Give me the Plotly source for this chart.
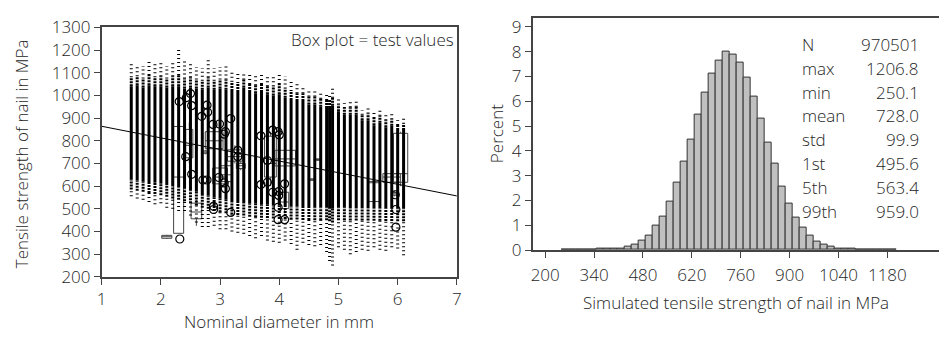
import plotly.graph_objects as go

W, H = 944, 341

# ---------------- Left panel: simulated columns (per nominal diameter) ----------------
sim_diam = [1.5, 1.6, 1.7, 1.8, 1.9, 2.0, 2.1, 2.2, 2.3, 2.4, 2.5, 2.6, 2.7, 2.8, 2.9, 3.0,
            3.1, 3.2, 3.3, 3.4, 3.5, 3.6, 3.7, 3.8, 3.9, 4.0, 4.1, 4.2, 4.3, 4.4, 4.5, 4.6,
            4.7, 4.8, 4.85, 4.9, 5.0, 5.1, 5.2, 5.3, 5.4, 5.5, 5.6, 5.7, 5.8, 5.9, 6.0, 6.1]
sim_max = [1140, 1135, 1130, 1150, 1140, 1155, 1130, 1145, 1207, 1150, 1145, 1125, 1120, 1155, 1120, 1125,
           1140, 1110, 1100, 1105, 1090, 1085, 1095, 1085, 1085, 1100, 1085, 1065, 1050, 1045, 1020, 1030,
           1010, 1010, 1000, 1035, 985, 965, 975, 985, 935, 950, 925, 945, 915, 925, 890, 905]
sim_top_dense = [1080, 1085, 1075, 1090, 1080, 1085, 1075, 1085, 1090, 1075, 1080, 1070, 1065, 1080, 1065, 1070,
                 1070, 1060, 1055, 1070, 1050, 1045, 1050, 1040, 1040, 1050, 1030, 1020, 1010, 1010, 995, 995,
                 985, 980, 975, 990, 960, 945, 948, 950, 915, 920, 900, 910, 890, 895, 870, 875]
sim_top_solid = [1040, 1045, 1035, 1045, 1040, 1040, 1035, 1040, 1040, 1030, 1035, 1030, 1025, 1035, 1025, 1030,
                 1025, 1020, 1015, 1035, 1015, 1010, 1015, 1005, 1000, 1005, 990, 980, 975, 975, 960, 960,
                 950, 945, 945, 955, 930, 915, 915, 915, 890, 890, 868, 880, 860, 866, 847, 847]
sim_bot_solid = [630, 625, 622, 618, 615, 610, 605, 600, 595, 588, 580, 575, 565, 558, 550, 545,
                 540, 535, 535, 530, 525, 522, 520, 518, 515, 515, 512, 510, 510, 508, 508, 507,
                 506, 505, 500, 500, 505, 505, 504, 504, 503, 503, 502, 502, 501, 501, 500, 500]
sim_bot_dense = [585, 580, 575, 570, 565, 560, 553, 545, 540, 533, 525, 515, 505, 500, 490, 485,
                 480, 475, 473, 470, 465, 463, 461, 459, 457, 455, 455, 453, 453, 451, 451, 450,
                 450, 450, 445, 440, 450, 450, 449, 449, 448, 448, 447, 447, 446, 446, 445, 445]
sim_min = [555, 545, 540, 530, 520, 525, 505, 500, 490, 490, 470, 440, 420, 420, 425, 410,
           410, 400, 395, 390, 380, 370, 380, 360, 355, 350, 360, 345, 320, 350, 340, 335,
           340, 310, 270, 250, 330, 320, 300, 310, 320, 315, 330, 320, 315, 330, 325, 295]

# regression line of tensile strength on diameter
reg_intercept = 915.2
reg_slope = -51.2
reg_x = [1, 7]

# test value box plots
box_x = [2.1, 2.3, 2.48, 2.6, 2.75, 2.9, 3.0, 3.1, 3.25, 3.35, 3.85, 4.1, 4.09, 4.55, 4.65, 5.6, 6.05, 5.9, 5.95]
box_low = [367, 392, 700, 425, 740, 700, 590, 600, 700, 670, 600, 670, 480, 624, 712, 532, 600, 590, 555]
box_q1 = [370, 392, 725, 456, 745, 765, 610, 620, 710, 678, 640, 689, 501, 626, 714, 532, 617, 617, 560]
box_med = [377, 640, 780, 486, 750, 800, 640, 650, 730, 690, 700, 720, 530, 628, 717, 615, 655, 640, 566]
box_q3 = [383, 863, 850, 525, 755, 840, 680, 690, 760, 700, 820, 758, 573, 632, 720, 621, 833, 655, 572]
box_high = [385, 863, 880, 540, 760, 870, 700, 720, 780, 710, 840, 780, 590, 634, 722, 621, 840, 660, 580]
box_wid = [0.17, 0.17, 0.12, 0.18, 0.10, 0.30, 0.25, 0.20, 0.25, 0.15, 0.20, 0.35, 0.14, 0.12, 0.12, 0.20, 0.24, 0.30, 0.08]
box_white = [True, True, False, True, False, False, False, False, False, False, False, False, True, False, False, False, False, False, False]

# outliers of the test values
out_x = [2.31, 2.43, 2.5, 2.52, 2.32, 2.42, 2.52, 2.71, 2.78, 2.79, 2.69, 2.88, 2.99, 3.09, 3.07, 3.18,
         2.89, 2.89, 2.78, 2.98, 3.07, 3.09, 3.18, 3.30, 3.30, 3.69, 3.69, 3.80, 3.80, 3.89, 3.98, 4.0,
         3.89, 3.99, 3.99, 4.09, 3.98, 3.98, 4.09, 5.96, 5.97, 5.97]
out_y = [973, 990, 1008, 955, 367, 730, 652, 627, 957, 926, 908, 872, 874, 840, 829, 898,
         497, 511, 627, 638, 614, 589, 484, 758, 730, 822, 607, 617, 713, 847, 840, 826,
         573, 576, 559, 610, 507, 452, 452, 562, 497, 419]

# ---------------- Right panel: histogram ----------------
hist_bin_start = list(range(248, 1208, 20))
hist_pct = [0.01, 0.01, 0.01, 0.01, 0.01, 0.04, 0.04, 0.05, 0.06, 0.16, 0.22, 0.37, 0.60, 0.98, 1.36, 1.96,
            2.73, 3.55, 4.46, 5.45, 6.34, 7.10, 7.63, 8.00, 7.87, 7.56, 6.95, 6.19, 5.29, 4.32, 3.48, 2.57,
            1.89, 1.30, 0.92, 0.60, 0.36, 0.24, 0.14, 0.08, 0.07, 0.06, 0.02, 0.02, 0.02, 0.02, 0.01, 0.01]
hist_bin_width = 20
stat_names = ["N", "max", "min", "mean", "std", "1st", "5th", "99th"]
stat_values = ["970501", "1206.8", "250.1", "728.0", "99.9", "495.6", "563.4", "959.0"]
x2_ticks = [200, 340, 480, 620, 760, 900, 1040, 1180]

FONT = "Open Sans"
FS = 17
FW = 350
TXT = "#262626"
AX = "#444444"


def fx(px):
    return px / W


def fy(py):
    return 1 - py / H


fig = go.Figure()

# columns of simulated values
def seg_lists(lows, highs):
    xs, ys = [], []
    for d, a, b in zip(sim_diam, lows, highs):
        xs += [d, d, None]
        ys += [a, b, None]
    return xs, ys

sx, sy = seg_lists(sim_bot_solid, sim_top_solid)
dx1, dy1 = seg_lists(sim_top_solid, sim_top_dense)
dx2, dy2 = seg_lists(sim_bot_dense, sim_bot_solid)
px1, py1 = seg_lists(sim_top_dense, sim_max)
px2, py2 = seg_lists(sim_min, sim_bot_dense)

for xs, ys, dash in [(px1 + px2, py1 + py2, "1px,3px"),
                     (dx1 + dx2, dy1 + dy2, "2px,1px"),
                     (sx, sy, "solid")]:
    fig.add_trace(go.Scatter(x=xs, y=ys, mode="lines", line=dict(color="black", width=3, dash=dash),
                             xaxis="x", yaxis="y", showlegend=False, hoverinfo="skip"))

for i in range(len(box_x)):
    fig.add_trace(go.Box(x=[box_x[i]], q1=[box_q1[i]], median=[box_med[i]], q3=[box_q3[i]],
                         lowerfence=[box_low[i]], upperfence=[box_high[i]], width=box_wid[i],
                         fillcolor="white" if box_white[i] else "rgba(0,0,0,0)",
                         line=dict(color="#444444", width=1), whiskerwidth=0, boxpoints=False,
                         xaxis="x", yaxis="y", showlegend=False, hoverinfo="skip"))

fig.add_trace(go.Scatter(x=out_x, y=out_y, mode="markers",
                         marker=dict(symbol="circle-open", size=8, color="black", line=dict(width=1.2)),
                         xaxis="x", yaxis="y", showlegend=False, hoverinfo="skip"))

fig.add_trace(go.Scatter(x=reg_x, y=[reg_intercept + reg_slope * v for v in reg_x], mode="lines",
                         line=dict(color="black", width=1), xaxis="x", yaxis="y",
                         showlegend=False, hoverinfo="skip"))

# histogram
fig.add_trace(go.Bar(x=[s + hist_bin_width / 2 for s in hist_bin_start], y=hist_pct, width=hist_bin_width,
                     marker=dict(color="#c0c0c0", line=dict(color="#333333", width=1)),
                     xaxis="x2", yaxis="y2", showlegend=False, hoverinfo="skip"))

axis_common = dict(showline=True, linecolor=AX, linewidth=1.5, ticks="outside", ticklen=6,
                   tickcolor=AX, tickwidth=1, showgrid=False, zeroline=False,
                   tickfont=dict(family=FONT, size=FS, color=TXT, weight=FW))

fig.update_layout(
    width=W, height=H, margin=dict(l=0, r=0, t=0, b=0),
    paper_bgcolor="white", plot_bgcolor="white", bargap=0,
    xaxis=dict(domain=[fx(97.7), fx(456.7)], range=[1, 7], tickvals=[1, 2, 3, 4, 5, 6, 7],
               mirror=True, anchor="y", **axis_common),
    yaxis=dict(domain=[fy(284), fy(16.5)], range=[200, 1300], dtick=100, tick0=200,
               mirror=True, anchor="x", **axis_common),
    xaxis2=dict(domain=[fx(533.3), 1.0], range=[164, 1328], tickvals=x2_ticks,
                mirror=True, anchor="y2", ticklabelstandoff=3, **axis_common),
    yaxis2=dict(domain=[fy(255.3), fy(6)], range=[0, 9.372], dtick=1, tick0=0,
                anchor="x2", **axis_common),
)

ann = []
ann.append(dict(text="Tensile strength of nail in MPa", x=fx(16.7), y=fy(152), textangle=-90))
ann.append(dict(text="Nominal diameter in mm", x=fx(277), y=fy(332)))
ann.append(dict(text="Box plot = test values", x=fx(456), y=fy(29.3), xanchor="right"))
ann.append(dict(text="Simulated tensile strength of nail in MPa", x=fx(738.5), y=fy(312)))
ann.append(dict(text="Percent", x=fx(496.7), y=fy(130.5), textangle=-90))
for i, (n, v) in enumerate(zip(stat_names, stat_values)):
    yy = 35 + i * 25.5
    ann.append(dict(text=n, x=fx(803.3), y=fy(yy), xanchor="left"))
    ann.append(dict(text=v, x=fx(926), y=fy(yy), xanchor="right"))

for a in ann:
    a.setdefault("xanchor", "center")
    a.update(xref="paper", yref="paper", yanchor="middle", showarrow=False,
             font=dict(family=FONT, size=FS, color=TXT, weight=FW))
fig.update_layout(annotations=ann)

fig.write_html("out.html")
